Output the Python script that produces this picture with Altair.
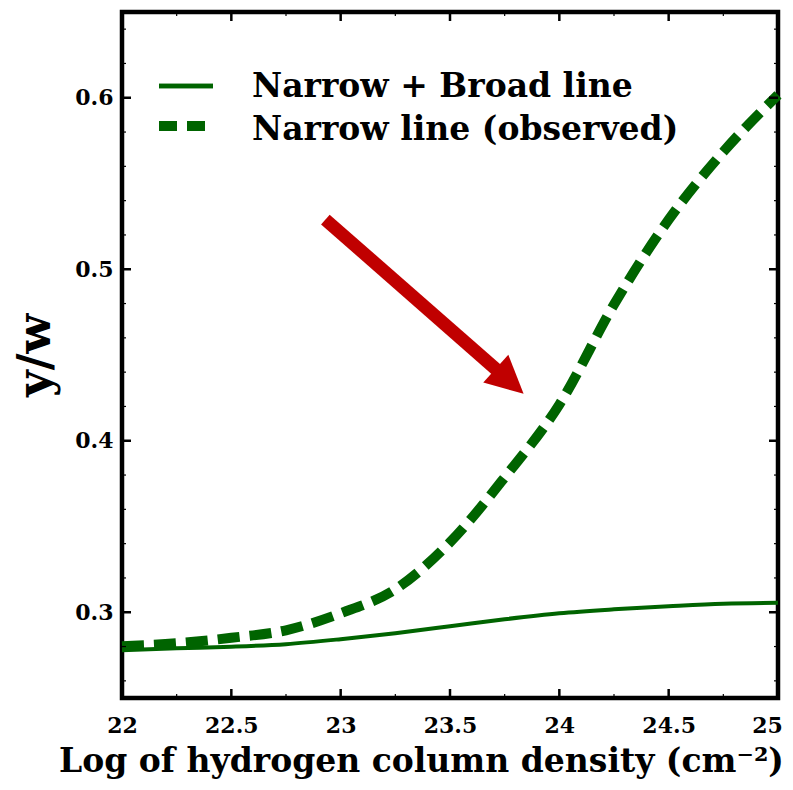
import altair as alt
import pandas as pd

# ---- data ----
nh = [22.0, 22.25, 22.5, 22.75, 23.0, 23.25, 23.5, 23.75, 24.0, 24.25, 24.5, 24.75, 25.0]
narrow_broad = [0.2779, 0.2790, 0.2799, 0.2814, 0.2843, 0.2878, 0.2918, 0.2959, 0.2994,
                0.3017, 0.3035, 0.3050, 0.3055]
narrow_obs = [0.2802, 0.2819, 0.2851, 0.2895, 0.2994, 0.3134, 0.3408, 0.3786, 0.4211,
              0.4794, 0.5289, 0.5685, 0.6017]

x_major = [22, 22.5, 23, 23.5, 24, 24.5, 25]
x_minor = [22.25, 22.75, 23.25, 23.75, 24.25, 24.75]
y_major = [0.3, 0.4, 0.5, 0.6]
y_minor = [0.26, 0.28, 0.32, 0.34, 0.36, 0.38, 0.42, 0.44, 0.46, 0.48,
           0.52, 0.54, 0.56, 0.58, 0.62, 0.64]

legend_labels = ["Narrow + Broad line", "Narrow line (observed)"]
x_title = "Log of hydrogen column density (cm⁻²)"
y_title = "y/w"

# arrow annotation (data coordinates)
arrow_start = (22.93, 0.529)
arrow_head = (23.773, 0.4347)

GREEN = "#006400"
RED = "#c00000"
FONT = "DejaVu Serif"
W, H = 656, 686

xs = alt.Scale(domain=[22, 25], nice=False, zero=False)
ys = alt.Scale(domain=[0.25, 0.65], nice=False, zero=False)

df_nb = pd.DataFrame({"x": nh, "y": narrow_broad})
df_no = pd.DataFrame({"x": nh, "y": narrow_obs})

x_axis = alt.Axis(values=x_major, format="~g", grid=False, domain=False, ticks=False,
                  tickSize=0, labelPadding=17, labelFontSize=22, labelFont=FONT,
                  labelFontWeight="bold", labelColor="black", labelFlush=False,
                  labelOffset={"condition": {"test": "datum.value == 25", "value": -11},
                               "value": 0},
                  title=x_title,
                  titleFont=FONT, titleFontSize=33, titleFontWeight="bold",
                  titleColor="black", titleX=299, titleY=73, titleAlign="center",
                  titleBaseline="alphabetic")
y_axis = alt.Axis(values=y_major, format="~g", grid=False, domain=False, ticks=False,
                  tickSize=0, labelPadding=9, labelFontSize=22, labelFont=FONT,
                  labelFontWeight="bold", labelColor="black", labelFlush=False,
                  title=y_title,
                  titleFont=FONT, titleFontSize=46, titleFontWeight="bold",
                  titleColor="black", titleX=-73, titleY=343, titleAngle=270,
                  titleAlign="center", titleBaseline="alphabetic")

solid = alt.Chart(df_nb).mark_line(color=GREEN, strokeWidth=4, interpolate="monotone").encode(
    x=alt.X("x:Q", scale=xs, axis=x_axis),
    y=alt.Y("y:Q", scale=ys, axis=y_axis),
)
dashed = alt.Chart(df_no).mark_line(color=GREEN, strokeWidth=10, strokeDash=[22, 10],
                                    strokeCap="butt", interpolate="monotone").encode(
    x=alt.X("x:Q", scale=xs),
    y=alt.Y("y:Q", scale=ys),
)

# ticks (inward, all four sides)
def xticks(vals, length, width):
    d = pd.DataFrame({"v": vals})
    bot = alt.Chart(d).mark_rule(color="black", strokeWidth=width).encode(
        x=alt.X("v:Q", scale=xs), y=alt.value(H), y2=alt.value(H - length))
    top = alt.Chart(d).mark_rule(color="black", strokeWidth=width).encode(
        x=alt.X("v:Q", scale=xs), y=alt.value(0), y2=alt.value(length))
    return [bot, top]

def yticks(vals, length, width):
    d = pd.DataFrame({"v": vals})
    left = alt.Chart(d).mark_rule(color="black", strokeWidth=width).encode(
        y=alt.Y("v:Q", scale=ys), x=alt.value(0), x2=alt.value(length))
    right = alt.Chart(d).mark_rule(color="black", strokeWidth=width).encode(
        y=alt.Y("v:Q", scale=ys), x=alt.value(W), x2=alt.value(W - length))
    return [left, right]

ticks = (xticks(x_major, 9, 2.5) + xticks(x_minor, 4, 1.2)
         + yticks(y_major, 9, 2.5) + yticks(y_minor, 4, 1.2))

# arrow
df_shaft = pd.DataFrame({"x": [arrow_start[0]], "y": [arrow_start[1]],
                         "x2": [arrow_head[0]], "y2": [arrow_head[1]]})
shaft = alt.Chart(df_shaft).mark_rule(color=RED, strokeWidth=13, strokeCap="butt").encode(
    x=alt.X("x:Q", scale=xs), y=alt.Y("y:Q", scale=ys), x2="x2:Q", y2="y2:Q")
df_head = pd.DataFrame({"x": [arrow_head[0]], "y": [arrow_head[1]]})
head = alt.Chart(df_head).mark_point(shape="M0,-1L-1,1L1,1Z", size=1400, angle=132,
                                     filled=True, color=RED, opacity=1, strokeWidth=0).encode(
    x=alt.X("x:Q", scale=xs), y=alt.Y("y:Q", scale=ys))

# manual legend
leg_df = pd.DataFrame({"label": legend_labels})
leg_solid = alt.Chart(leg_df).mark_rule(color=GREEN, strokeWidth=4.5).encode(
    x=alt.value(37), x2=alt.value(91), y=alt.value(74))
leg_dash = alt.Chart(leg_df).mark_rule(color=GREEN, strokeWidth=10, strokeDash=[18, 10],
                                       strokeCap="butt").encode(
    x=alt.value(37), x2=alt.value(83), y=alt.value(114))
leg_t1 = alt.Chart(pd.DataFrame({"label": [legend_labels[0]]})).mark_text(
    align="left", baseline="alphabetic", font=FONT, fontSize=33, fontWeight="bold",
    color="black").encode(x=alt.value(130), y=alt.value(85), text="label:N")
leg_t2 = alt.Chart(pd.DataFrame({"label": [legend_labels[1]]})).mark_text(
    align="left", baseline="alphabetic", font=FONT, fontSize=33, fontWeight="bold",
    color="black").encode(x=alt.value(130), y=alt.value(128), text="label:N")

chart = alt.layer(solid, dashed, *ticks, shaft, head, leg_solid, leg_dash, leg_t1, leg_t2).properties(
    width=W, height=H,
    background="white",
    autosize=alt.AutoSizeParams(type="none"),
    padding={"left": 114, "top": 4, "right": 7, "bottom": 84},
).configure_view(stroke="black", strokeWidth=4.5)

chart.save("out.html", embed_options={"renderer": "svg", "actions": False})
